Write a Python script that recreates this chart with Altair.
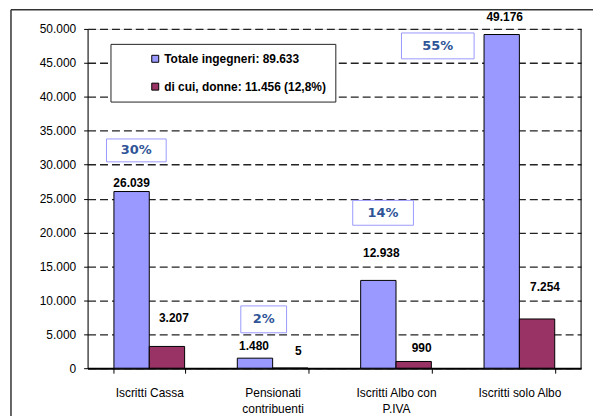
import altair as alt
import pandas as pd

# ---------------- data ----------------
categories = ["Iscritti Cassa", "Pensionati contribuenti",
              "Iscritti  Albo con P.IVA", "Iscritti  solo Albo"]
category_lines = [["Iscritti Cassa"], ["Pensionati", "contribuenti"],
                  ["Iscritti  Albo con", "P.IVA"], ["Iscritti  solo Albo"]]
series = ["Totale ingegneri: 89.633", "di cui, donne: 11.456 (12,8%)"]
totale = [26039, 1480, 12938, 49176]
donne = [3207, 5, 990, 7254]
quote = ["30%", "2%", "14%", "55%"]

# ---------------- layout / style ----------------
W, H = 496, 341
FONT = "Liberation Sans"
FS = 12
BLUE, RED = "#9999FF", "#993366"
# manual label offsets (px) as placed in the original
lab_dx = {series[0]: [0, -1, 3, 3], series[1]: [7, 8, 8, 8]}
lab_dy = {series[0]: [-9, -12, -28, -18], series[1]: [-29, -17, -14, -32]}
# percentage boxes: anchor level (axis units), x shift (px), box w/h (px)
quote_level = [32100, 7200, 22900, 47500]
quote_dx = [-13, -9, -13, -82]
quote_box = [(60, 23), (46, 27), (61, 25), (73, 26)]

rows = []
for i, c in enumerate(categories):
    rows.append({"cat": c, "series": series[0], "value": totale[i], "idx": i})
    rows.append({"cat": c, "series": series[1], "value": donne[i], "idx": i})
df = pd.DataFrame(rows)

qdf = pd.DataFrame({"cat": categories, "q": quote, "lvl": quote_level})

fmt_expr = "replace(format(datum.value, ','), regexp(',', 'g'), '.')"

label_expr = ""
for c, lines in zip(categories, category_lines):
    arr = "[" + ",".join("'" + l + "'" for l in lines) + "]"
    label_expr += f"datum.value == '{c}' ? {arr} : "
label_expr += "datum.value"

x_axis = alt.Axis(title=None, labelAngle=0, tickBand="extent",
                  labelExpr=label_expr, tickSize=5, tickColor="black",
                  domainColor="black", domainWidth=2,
                  labelPadding=14, labelLineHeight=17,
                  labelFont=FONT, labelFontSize=FS, labelColor="black",
                  labelBaseline="top")
x_scale = alt.Scale(paddingInner=0.427, paddingOuter=0.2135)
y_axis = alt.Axis(title=None, values=list(range(0, 50001, 5000)),
                  labelExpr=fmt_expr, grid=True, gridDash=[8, 4],
                  gridColor="#222222", gridWidth=1.3,
                  tickSize=4, tickColor="black",
                  domainColor="black", domainWidth=1,
                  labelOverlap=False,
                  labelPadding=8, labelFont=FONT, labelFontSize=FS,
                  labelColor="black")
y_scale = alt.Scale(domain=[0, 50000], nice=False)

x_enc = alt.X("cat:N", sort=categories, scale=x_scale, axis=x_axis)
xo_enc = alt.XOffset("series:N", sort=series,
                     scale=alt.Scale(paddingInner=0, paddingOuter=0))
y_enc = alt.Y("value:Q", scale=y_scale, axis=y_axis)
yq_enc = alt.Y("lvl:Q", scale=y_scale, axis=y_axis)

base = alt.Chart(df)

bars = base.mark_bar(stroke="black", strokeWidth=1).encode(
    x=x_enc, xOffset=xo_enc, y=y_enc,
    color=alt.Color("series:N", sort=series,
                    scale=alt.Scale(domain=series, range=[BLUE, RED]),
                    legend=alt.Legend(title=None, orient="none", legendX=23, legendY=15,
                                      fillColor="white", strokeColor="#222222",
                                      padding=9, rowPadding=16,
                                      symbolType="square", symbolSize=49,
                                      symbolStrokeColor="black", symbolStrokeWidth=1,
                                      symbolOffset=30, labelOffset=3,
                                      labelFont=FONT, labelFontSize=FS,
                                      labelFontWeight="bold", labelColor="black",
                                      labelLimit=400)),
)

layers = [bars]
for s in series:
    for i, c in enumerate(categories):
        layers.append(
            base.transform_filter(
                (alt.datum.series == s) & (alt.datum.idx == i)
            ).transform_calculate(
                lbl="replace(format(datum.value, ','), regexp(',', 'g'), '.')"
            ).mark_text(dx=lab_dx[s][i], dy=lab_dy[s][i], font=FONT, fontSize=FS,
                        fontWeight="bold", color="black", baseline="middle").encode(
                x=x_enc, xOffset=xo_enc, y=y_enc, text="lbl:N")
        )

qbase = alt.Chart(qdf)
for i, c in enumerate(categories):
    w, h = quote_box[i]
    hw = w / 2.0
    x0 = (quote_dx[i] - hw) / hw
    x1 = (quote_dx[i] + hw) / hw
    hh = (h / 2.0) / hw
    path = f"M{x0:.4f},{-hh:.4f}L{x1:.4f},{-hh:.4f}L{x1:.4f},{hh:.4f}L{x0:.4f},{hh:.4f}Z"
    sel = qbase.transform_filter(alt.datum.cat == c)
    layers.append(
        sel.mark_point(shape=path, size=w * w, filled=True, fill="white",
                       stroke="#9999FF", strokeWidth=1, opacity=1).encode(
            x=x_enc, y=yq_enc)
    )
    layers.append(
        sel.mark_text(dx=quote_dx[i], font="DejaVu Sans", fontSize=13,
                      fontWeight="bold", color="#2F5597", baseline="middle").encode(
            x=x_enc, y=yq_enc, text="q:N")
    )

one = pd.DataFrame({"k": [0]})
frame_top = alt.Chart(one).mark_rule(color="#333333", strokeWidth=1.5).encode(
    x=alt.value(-77), x2=alt.value(W + 20), y=alt.value(-19.25))
frame_left = alt.Chart(one).mark_rule(color="#333333", strokeWidth=1.5).encode(
    x=alt.value(-77), y=alt.value(-19.25), y2=alt.value(H + 60))
plot_right = alt.Chart(one).mark_rule(color="black", strokeWidth=1).encode(
    x=alt.value(W), y=alt.value(0), y2=alt.value(H))
layers += [plot_right, frame_top, frame_left]

chart = alt.layer(*layers).properties(
    width=W, height=H,
    padding={"left": 80, "top": 20, "right": 12, "bottom": 47},
    autosize=alt.AutoSizeParams(type="none"),
).configure_view(stroke=None).configure(background="white")

chart.save("out.html", embed_options={"renderer": "svg", "actions": False})
